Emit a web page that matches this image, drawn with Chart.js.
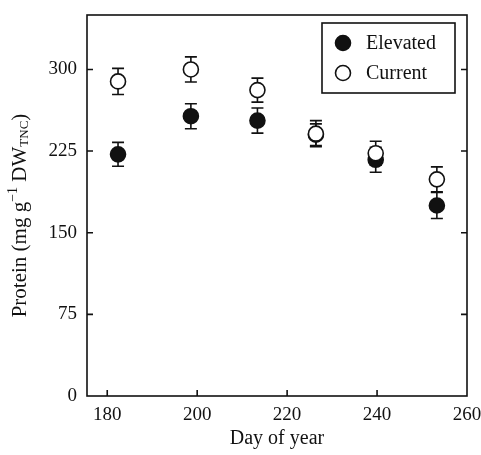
<!DOCTYPE html>
<html>
<head>
<meta charset="utf-8">
<script src="https://cdn.jsdelivr.net/npm/chart.js@4/dist/chart.umd.min.js"></script>
<style>
  html, body { margin: 0; background: #fff; }
  canvas { display: block; }
</style>
</head>
<body>
<canvas id="chart" width="481" height="455"></canvas>
<script>
// ----------------- Data -----------------
const days = [182.4, 198.6, 213.4, 226.4, 239.7, 253.3];
const elevated = [222, 257, 253, 240, 217, 175];
const elevatedErr = [11, 11.5, 11.5, 10, 11.5, 12];
const current = [289, 300, 281, 241, 223, 199];
const currentErr = [12, 11.5, 11, 12, 11, 11.5];
const xTicks = [180, 200, 220, 240, 260];
const yTicks = [0, 75, 150, 225, 300];
const seriesNames = ["Elevated", "Current"];

const FONT = "'Liberation Serif', 'Times New Roman', serif";
const INK = "#111";

// ----------------- Helpers -----------------
function drawMarker(ctx, x, y, filled) {
  ctx.beginPath();
  ctx.arc(x, y, 7.5, 0, Math.PI * 2);
  ctx.fillStyle = filled ? INK : "#fff";
  ctx.fill();
  ctx.lineWidth = 1.6;
  ctx.strokeStyle = INK;
  ctx.stroke();
}

// error bars behind the markers, frame / ticks / legend / titles on top
const decorations = {
  id: "decorations",
  beforeDatasetsDraw(chart) {
    const ctx = chart.ctx;
    const ys = chart.scales.y;
    ctx.save();
    ctx.strokeStyle = INK;
    ctx.lineWidth = 1.6;
    chart.data.datasets.forEach((ds, i) => {
      const meta = chart.getDatasetMeta(i);
      meta.data.forEach((pt, j) => {
        const v = ds.data[j].y, e = ds.err[j];
        const top = ys.getPixelForValue(v + e);
        const bot = ys.getPixelForValue(v - e);
        ctx.beginPath();
        ctx.moveTo(pt.x, top); ctx.lineTo(pt.x, bot);
        ctx.moveTo(pt.x - 6, top); ctx.lineTo(pt.x + 6, top);
        ctx.moveTo(pt.x - 6, bot); ctx.lineTo(pt.x + 6, bot);
        ctx.stroke();
      });
    });
    ctx.restore();
  },
  afterDraw(chart) {
    const ctx = chart.ctx;
    const { left, right, top, bottom } = chart.chartArea;
    const xs = chart.scales.x, ys = chart.scales.y;
    ctx.save();
    ctx.strokeStyle = INK;
    ctx.lineWidth = 1.6;
    ctx.strokeRect(left, top, right - left, bottom - top);

    // inward ticks
    ctx.beginPath();
    xTicks.forEach(v => {
      const px = xs.getPixelForValue(v);
      if (px > left + 2 && px < right - 2) {
        ctx.moveTo(px, bottom); ctx.lineTo(px, bottom - 6);
      }
    });
    yTicks.forEach(v => {
      const py = ys.getPixelForValue(v);
      if (py < bottom - 2) {
        ctx.moveTo(left, py); ctx.lineTo(left + 6, py);
        ctx.moveTo(right, py); ctx.lineTo(right - 6, py);
      }
    });
    ctx.stroke();

    // legend
    ctx.strokeRect(322, 23, 133, 70);
    ctx.font = "20px " + FONT;
    ctx.fillStyle = INK;
    ctx.textBaseline = "middle";
    ctx.textAlign = "left";
    seriesNames.forEach((name, i) => {
      const y = 43 + i * 30;
      drawMarker(ctx, 343, y, i === 0);
      ctx.fillStyle = INK;
      ctx.fillText(name, 366, y + 1);
    });

    // x title
    ctx.textAlign = "center";
    ctx.textBaseline = "middle";
    ctx.font = "20px " + FONT;
    ctx.fillText("Day of year", (left + right) / 2, 439);

    // y title with super/subscripts
    const parts = [
      { t: "Protein (mg g", size: 21, dy: 0 },
      { t: "\u22121", size: 14, dy: -7 },
      { t: " DW", size: 21, dy: 0 },
      { t: "TNC", size: 13, dy: 5 },
      { t: ")", size: 21, dy: 0 }
    ];
    let total = 0;
    parts.forEach(p => { ctx.font = p.size + "px " + FONT; p.w = ctx.measureText(p.t).width; total += p.w; });
    ctx.translate(20, (top + bottom) / 2 + 10);
    ctx.rotate(-Math.PI / 2);
    ctx.textAlign = "left";
    let x = -total / 2;
    parts.forEach(p => {
      ctx.font = p.size + "px " + FONT;
      ctx.fillText(p.t, x, p.dy);
      x += p.w;
    });
    ctx.restore();
  }
};

// ----------------- Chart -----------------
const ctx = document.getElementById("chart").getContext("2d");
new Chart(ctx, {
  type: "scatter",
  data: {
    datasets: [
      {
        label: seriesNames[1],
        data: days.map((d, i) => ({ x: d, y: current[i] })),
        err: currentErr,
        order: 0,
        pointRadius: 7.5,
        pointBackgroundColor: "#fff",
        pointBorderColor: INK,
        pointBorderWidth: 1.6
      },
      {
        label: seriesNames[0],
        data: days.map((d, i) => ({ x: d, y: elevated[i] })),
        err: elevatedErr,
        order: 1,
        pointRadius: 7.5,
        pointBackgroundColor: INK,
        pointBorderColor: INK,
        pointBorderWidth: 1.6
      }
    ]
  },
  options: {
    responsive: false,
    animation: false,
    events: [],
    layout: { padding: { left: 0, right: 14, top: 15, bottom: 0 } },
    plugins: { legend: { display: false }, tooltip: { enabled: false } },
    scales: {
      x: {
        type: "linear",
        min: 175.5,
        max: 260,
        afterBuildTicks: s => { s.ticks = xTicks.map(v => ({ value: v })); },
        afterFit: s => { s.height = 59; s.paddingLeft = 0; s.paddingRight = 0; },
        grid: { display: false, drawTicks: false },
        border: { display: false },
        ticks: { color: INK, font: { family: FONT, size: 19 }, padding: 8, maxRotation: 0 }
      },
      y: {
        min: 0,
        max: 350,
        afterBuildTicks: s => { s.ticks = yTicks.map(v => ({ value: v })); },
        afterFit: s => { s.width = 87; s.paddingTop = 0; s.paddingBottom = 0; },
        grid: { display: false, drawTicks: false },
        border: { display: false },
        ticks: { color: INK, font: { family: FONT, size: 19 }, padding: 10 }
      }
    }
  },
  plugins: [decorations]
});
</script>
</body>
</html>
